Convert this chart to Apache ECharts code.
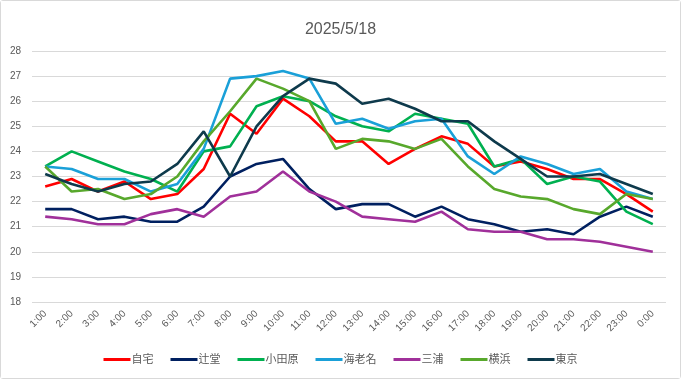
<!DOCTYPE html>
<html><head><meta charset="utf-8">
<script src="https://cdn.jsdelivr.net/npm/echarts@6/dist/echarts.min.js"></script>
<style>
html,body{margin:0;padding:0;background:#fff;}
#wrap{position:absolute;left:0;top:0;width:679px;height:377px;border:1px solid #d9d9d9;border-radius:3px;}
#c{width:679px;height:377px;}
</style></head>
<body><div id="wrap"><div id="c"></div></div>
<script>
const categories = ["1:00","2:00","3:00","4:00","5:00","6:00","7:00","8:00","9:00","10:00","11:00","12:00","13:00","14:00","15:00","16:00","17:00","18:00","19:00","20:00","21:00","22:00","23:00","0:00"];
const seriesNames = ["自宅","辻堂","小田原","海老名","三浦","横浜","東京"];
const jitaku   = [22.6,22.9,22.4,22.8,22.1,22.3,23.3,25.5,24.7,26.1,25.4,24.4,24.4,23.5,24.1,24.6,24.3,23.4,23.6,23.3,22.9,22.9,22.3,21.6];
const tsujido  = [21.7,21.7,21.3,21.4,21.2,21.2,21.8,23.0,23.5,23.7,22.5,21.7,21.9,21.9,21.4,21.8,21.3,21.1,20.8,20.9,20.7,21.4,21.8,21.4];
const odawara  = [23.4,24.0,23.6,23.2,22.9,22.4,24.0,24.2,25.8,26.2,26.0,25.4,25.0,24.8,25.5,25.3,25.1,23.4,23.7,22.7,23.0,22.8,21.6,21.1];
const ebina    = [23.4,23.3,22.9,22.9,22.4,22.7,24.1,26.9,27.0,27.2,26.9,25.1,25.3,24.9,25.2,25.3,23.8,23.1,23.8,23.5,23.1,23.3,22.4,22.1];
const miura    = [21.4,21.3,21.1,21.1,21.5,21.7,21.4,22.2,22.4,23.2,22.4,22.0,21.4,21.3,21.2,21.6,20.9,20.8,20.8,20.5,20.5,20.4,20.2,20.0];
const yokohama = [23.4,22.4,22.5,22.1,22.3,23.0,24.4,25.6,26.9,26.5,26.0,24.1,24.5,24.4,24.1,24.5,23.4,22.5,22.2,22.1,21.7,21.5,22.3,22.1];
const tokyo    = [23.1,22.7,22.4,22.7,22.8,23.5,24.8,23.0,25.0,26.2,26.9,26.7,25.9,26.1,25.7,25.2,25.2,24.4,23.7,23.0,23.0,23.1,22.7,22.3];
const yTicks = [18,19,20,21,22,23,24,25,26,27,28];

const colors = ["#ff0000","#002060","#00b050","#1aa0d8","#a0309a","#58a82c","#0e3a4c"];
const dataArr = [jitaku,tsujido,odawara,ebina,miura,yokohama,tokyo];
const font = "'Liberation Sans', Arial, 'Noto Sans CJK JP', sans-serif";

const chart = echarts.init(document.getElementById('c'));
chart.setOption({
  animation:false,
  backgroundColor:'#fff',
  color: colors,
  title:{text:'2025/5/18', left:'center', top:16,
    textStyle:{fontFamily:font, fontSize:16, fontWeight:'normal', color:'#595959'}},
  grid:{left:31, right:14, top:50, bottom:76},
  legend:{bottom:8, left:'center', itemWidth:27, itemHeight:3, itemGap:17,
    icon:'rect',
    textStyle:{fontFamily:font, fontSize:11, color:'#595959', padding:[0,0,0,-4]},
    data: seriesNames},
  xAxis:{type:'category', data:categories, boundaryGap:true,
    axisLine:{show:false}, axisTick:{show:false},
    axisLabel:{rotate:45, fontSize:10, color:'#595959', fontFamily:font, margin:10, interval:0}},
  yAxis:{type:'value', min:yTicks[0], max:yTicks[yTicks.length-1], interval:1,
    axisLine:{show:false}, axisTick:{show:false},
    axisLabel:{fontSize:10, color:'#595959', fontFamily:font, margin:22, align:'left'},
    splitLine:{lineStyle:{color:'#d9d9d9', width:1}}},
  series: seriesNames.map((n,i)=>({
    name:n, type:'line', data:dataArr[i], symbol:'none', smooth:false,
    lineStyle:{width:2.6, color:colors[i]}, itemStyle:{color:colors[i]}
  }))
});
</script></body></html>
